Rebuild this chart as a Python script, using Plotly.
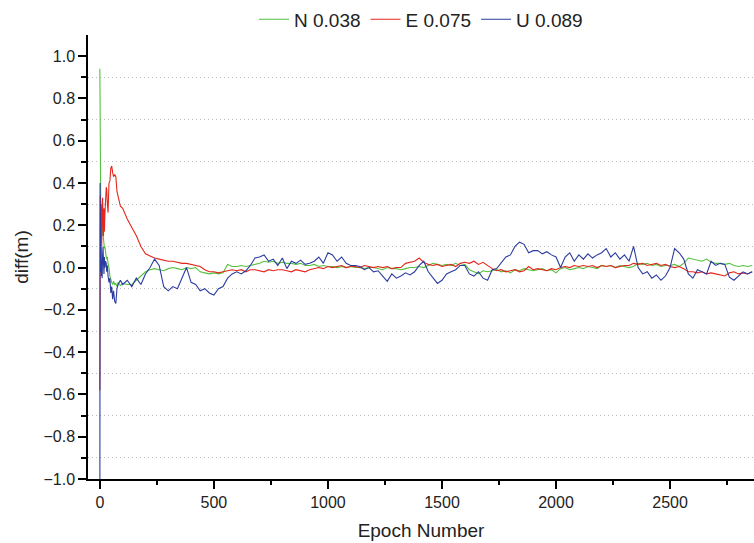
import plotly.graph_objects as go

# ---------------- data ----------------
epoch_early = [0, 1, 2, 3, 4, 5, 6, 7, 8, 10, 12, 14, 16, 18, 20, 22, 25, 28, 30, 33,
               36, 40, 44, 48, 52, 56, 60, 65, 70, 75, 80, 90, 100]
epoch_late = list(range(120, 2861, 20))
epochs = epoch_early + epoch_late

n_early = [0.94, 0.42, 0.38, 0.30, 0.26, 0.22, 0.25, 0.18, 0.22, 0.15, 0.20, 0.16, 0.12, 0.14,
           0.09, 0.10, 0.06, 0.05, 0.04, 0.05, 0.02, 0.00, -0.04, -0.06, -0.07, -0.08, -0.065,
           -0.08, -0.075, -0.09, -0.07, -0.085, -0.075]
n_late = [-0.08, -0.08, -0.06, -0.04, -0.02,
          -0.01, -0.005, -0.01, -0.015, -0.005,
          0.0, -0.005, -0.01, 0.0, -0.005,
          0.0, -0.02, -0.025, -0.03, -0.025,
          -0.03, -0.025, 0.015, 0.005, 0.005,
          0.01, 0.005, 0.01, 0.015, 0.02,
          0.03, 0.025, 0.03, 0.02, 0.025,
          0.02, 0.02, 0.015, 0.02, 0.01,
          0.01, 0.015, 0.005, 0.01, 0.005,
          0.005, 0.0, 0.005, 0.0, 0.005,
          0.0, 0.0, -0.005, 0.0, 0.0,
          -0.005, -0.01, 0.0, -0.005, -0.005,
          -0.01, -0.005, 0.0, 0.0, 0.005,
          0.0, 0.01, 0.02, 0.015, 0.01,
          0.015, 0.01, 0.02, 0.01, 0.015,
          -0.01, -0.02, -0.03, -0.015, -0.02,
          -0.015, -0.01, -0.02, -0.015, -0.025,
          -0.01, -0.015, -0.005, -0.01, -0.015,
          -0.01, -0.005, -0.015, -0.01, -0.025,
          -0.005, 0.0, -0.01, -0.005, 0.0,
          -0.005, 0.005, 0.0, -0.005, 0.01,
          0.005, 0.01, 0.0, 0.01, 0.005,
          0.0, 0.005, 0.02, 0.015, 0.02,
          0.01, 0.015, 0.005, 0.01, 0.01,
          0.015, 0.005, 0.02, 0.045, 0.04,
          0.035, 0.03, 0.04, 0.025, 0.02,
          0.02, 0.015, 0.02, 0.01, 0.005,
          0.01, 0.005, 0.01]

e_early = [-0.58, 0.10, 0.34, 0.25, 0.30, 0.15, 0.30, 0.20, 0.10, 0.28, 0.33, 0.22, 0.15, 0.28,
           0.17, 0.25, 0.30, 0.38, 0.37, 0.30, 0.26, 0.40, 0.41, 0.47, 0.48, 0.45, 0.43, 0.44,
           0.43, 0.36, 0.33, 0.29, 0.28]
e_late = [0.23, 0.19, 0.15, 0.10, 0.065,
          0.055, 0.045, 0.04, 0.035, 0.03,
          0.03, 0.025, 0.02, 0.02, 0.015,
          0.01, 0.005, -0.01, -0.02, -0.02,
          -0.025, -0.02, -0.015, -0.01, -0.015,
          -0.01, -0.02, -0.01, -0.01, -0.015,
          -0.02, -0.01, -0.015, -0.01, -0.01,
          -0.015, -0.02, -0.01, -0.015, -0.02,
          -0.01, -0.005, 0.0, -0.005, 0.005,
          0.0, 0.005, 0.01, 0.0, 0.005,
          0.005, 0.0, 0.01, 0.005, 0.0,
          0.005, 0.0, 0.005, -0.005, 0.0,
          0.0, 0.02, 0.025, 0.03, 0.045,
          0.025, 0.015, 0.01, 0.015, 0.005,
          0.01, 0.015, 0.005, 0.02, 0.025,
          0.02, 0.03, 0.015, 0.025, 0.01,
          -0.005, -0.015, -0.01, -0.02, -0.015,
          -0.01, -0.02, -0.015, 0.005, -0.01,
          -0.005, -0.01, -0.015, -0.005, -0.01,
          0.0, 0.005, 0.0, 0.01, 0.005,
          0.01, 0.005, 0.01, 0.0, 0.01,
          0.005, 0.01, 0.0, 0.005, 0.01,
          0.01, 0.02, 0.015, 0.02, 0.01,
          0.015, 0.02, 0.01, 0.015, 0.005,
          0.0, 0.005, -0.005, -0.02, -0.02,
          -0.025, -0.02, -0.03, -0.025, -0.03,
          -0.035, -0.04, -0.025, -0.02, -0.03,
          -0.025, -0.03, -0.02]

u_early = [-1.2, 0.40, 0.25, 0.10, -0.02, 0.05, 0.10, -0.04, 0.03, -0.05, 0.06, 0.10, 0.02,
           -0.03, 0.05, 0.00, 0.03, 0.02, -0.02, 0.01, -0.04, -0.07, -0.05, -0.12, -0.09,
           -0.15, -0.11, -0.16, -0.17, -0.10, -0.08, -0.06, -0.08]
u_late = [-0.06, -0.09, -0.05, -0.08, -0.03,
          0.00, 0.04, 0.01, -0.09, -0.11,
          -0.09, -0.10, -0.05, 0.00, -0.07,
          -0.08, -0.11, -0.10, -0.12, -0.13,
          -0.10, -0.09, -0.05, -0.03, -0.02,
          -0.03, -0.015, 0.01, 0.045, 0.05,
          0.06, 0.03, 0.04, 0.01, 0.045,
          -0.005, 0.03, 0.02, 0.035, 0.015,
          0.02, 0.03, 0.05, 0.02, 0.07,
          0.06, 0.03, 0.05, 0.02, 0.01,
          0.01, 0.005, -0.01, 0.00, -0.02,
          -0.015, -0.04, -0.065, -0.03, -0.05,
          -0.04, -0.025, -0.035, -0.02, 0.01,
          0.03, -0.02, -0.045, -0.075, -0.06,
          -0.03, -0.02, -0.01, 0.01, 0.01,
          -0.03, -0.04, -0.02, -0.05, -0.06,
          -0.01, -0.005, 0.02, 0.05, 0.06,
          0.10, 0.12, 0.11, 0.07, 0.08,
          0.08, 0.065, 0.075, 0.06, 0.05,
          0.0, 0.05, 0.07, 0.03, 0.06,
          0.04, 0.065, 0.045, 0.06, 0.07,
          0.09, 0.05, 0.07, 0.04, 0.06,
          0.03, 0.10, 0.00, -0.03, -0.02,
          -0.05, -0.035, -0.06, -0.04, 0.0,
          0.09, 0.07, 0.04, -0.03, -0.05,
          -0.01, -0.02, -0.03, 0.03, 0.01,
          0.02, 0.015, -0.045, -0.06, -0.04,
          -0.02, -0.03, -0.02]

n_vals = n_early + n_late
e_vals = e_early + e_late
u_vals = u_early + u_late

series_names = ["N 0.038", "E 0.075", "U 0.089"]
series_colors = ["#55c040", "#e3271c", "#2b3c9e"]
y_ticks = [-1.0, -0.8, -0.6, -0.4, -0.2, 0.0, 0.2, 0.4, 0.6, 0.8, 1.0]
y_grid = [-0.9, -0.7, -0.5, -0.3, -0.1, 0.1, 0.3, 0.5, 0.7, 0.9]
x_ticks = [0, 500, 1000, 1500, 2000, 2500]

# ---------------- figure ----------------
FONT = "Liberation Sans, Arial, sans-serif"
fig = go.Figure()
for name, vals, col in zip(series_names, [n_vals, e_vals, u_vals], series_colors):
    fig.add_trace(go.Scatter(x=epochs, y=vals, mode="lines", name=name,
                             line=dict(color=col, width=1.1)))

fig.update_layout(
    width=754, height=543,
    margin=dict(l=88, r=0, t=32, b=64),
    paper_bgcolor="white", plot_bgcolor="white",
    font=dict(family=FONT, size=16, color="#222"),
    showlegend=True,
    legend=dict(orientation="h", x=0.5, xanchor="center", y=1.035, yanchor="middle",
                font=dict(size=19, color="#222"), bgcolor="rgba(0,0,0,0)",
                itemwidth=30, tracegroupgap=0),
)
fig.update_xaxes(
    range=[-52, 2868], tickvals=x_ticks, ticks="outside", ticklen=8, tickwidth=1.5,
    tickcolor="black", showline=True, linecolor="black", linewidth=1.5,
    showgrid=False, zeroline=False,
    minor=dict(dtick=250, tick0=0, ticks="outside", ticklen=4, tickwidth=1.5,
               tickcolor="black", showgrid=False),
    title=dict(text="Epoch Number", font=dict(size=19), standoff=14),
    tickfont=dict(size=16),
)
fig.update_yaxes(
    range=[-1.0, 1.1], tickvals=y_ticks, tickformat=".1f", ticks="outside", ticklen=8,
    tickwidth=1.5, tickcolor="black", showline=True, linecolor="black", linewidth=1.5,
    showgrid=False, zeroline=False,
    minor=dict(tickvals=y_grid, ticks="outside", ticklen=5, tickwidth=1.5,
               tickcolor="black", showgrid=True, gridcolor="#bdbdbd",
               griddash="1px,3px", gridwidth=1),
    title=dict(text="diff(m)", font=dict(size=19), standoff=10),
    tickfont=dict(size=16),
)

fig.write_html("out.html")
